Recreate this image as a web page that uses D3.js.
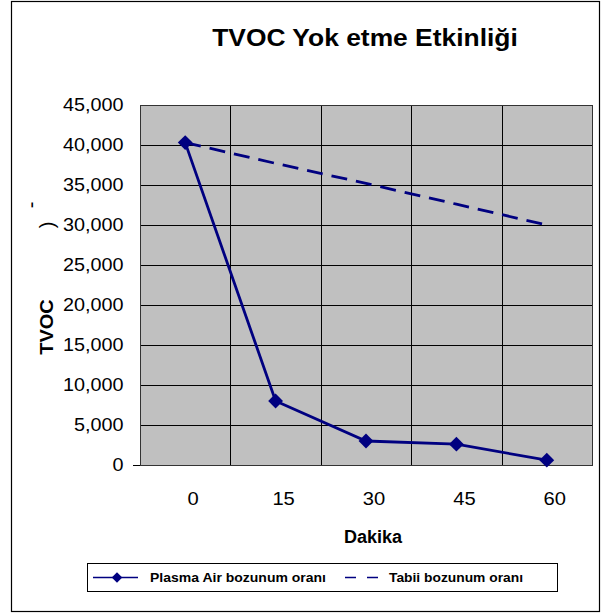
<!DOCTYPE html>
<html><head><meta charset="utf-8">
<script src="https://cdn.jsdelivr.net/npm/d3@7"></script>
<style>body{margin:0;background:#fff}svg{display:block;font-family:Arial,"Liberation Sans",sans-serif}</style>
</head><body><svg id="c" width="605" height="616"></svg>
<script>
const categories = ["0","15","30","45","60"];
const plasmaAir = [40300, 8000, 3000, 2600, 600];
const tabii = [40300, 37700, 35200, 32600, 30000];
const yTicks = [0,5000,10000,15000,20000,25000,30000,35000,40000,45000];

const svg = d3.select("#c");
const L = 140, R = 592, T = 105, B = 465;
const x = d3.scaleBand().domain(categories).range([L, R]);
const y = d3.scaleLinear().domain([0, 45000]).range([B, T]);
const navy = "#000080";

function stretch(sel, k) {
  sel.each(function(){ const w = this.getComputedTextLength(); d3.select(this).attr("textLength", w*k).attr("lengthAdjust","spacingAndGlyphs"); });
}

svg.append("rect").attr("x",11.5).attr("y",1.5).attr("width",588).attr("height",610).attr("fill","none").attr("stroke","#000").attr("stroke-width",1.2);

svg.append("text").attr("x",365).attr("y",46).attr("text-anchor","middle").attr("font-size",24).attr("font-weight","bold").text("TVOC Yok etme Etkinliği").call(stretch,1.1);

svg.append("rect").attr("x",L).attr("y",T).attr("width",R-L).attr("height",B-T).attr("fill","#c0c0c0");

svg.append("g").selectAll("line").data(yTicks).join("line")
  .attr("x1",L).attr("x2",R).attr("y1",d=>Math.round(y(d))+0.5).attr("y2",d=>Math.round(y(d))+0.5)
  .attr("stroke","#000").attr("stroke-width",1);
const bounds = categories.map(c=>x(c)).concat([R]);
svg.append("g").selectAll("line").data(bounds).join("line")
  .attr("x1",d=>Math.round(d)+0.5).attr("x2",d=>Math.round(d)+0.5).attr("y1",T).attr("y2",B)
  .attr("stroke","#000").attr("stroke-width",1);
svg.append("rect").attr("x",L+0.5).attr("y",T+0.5).attr("width",R-L).attr("height",B-T).attr("fill","none").attr("stroke","#333").attr("stroke-width",1);

const yAxis = svg.append("g").attr("transform",`translate(${L+0.5},0)`)
  .call(d3.axisLeft(y).tickValues(yTicks).tickSize(0).tickFormat(d3.format(",")));
yAxis.select(".domain").remove();
yAxis.selectAll("text").attr("font-size",18).attr("font-family","Arial, 'Liberation Sans', sans-serif").attr("x",-17).attr("fill","#000").call(stretch,1.1);
svg.append("line").attr("x1",133).attr("x2",L).attr("y1",B+0.5).attr("y2",B+0.5).attr("stroke","#000");

const xAxis = svg.append("g").attr("transform",`translate(0,${B})`)
  .call(d3.axisBottom(x).tickSize(0).tickPadding(27));
xAxis.select(".domain").remove();
xAxis.selectAll("text").attr("font-size",18).attr("font-family","Arial, 'Liberation Sans', sans-serif").attr("fill","#000").attr("dx",8).call(stretch,1.12);

svg.append("text").attr("x",373).attr("y",543).attr("text-anchor","middle").attr("font-size",18).attr("font-weight","bold").text("Dakika");
svg.append("text").attr("transform","translate(53,327) rotate(-90)").attr("text-anchor","middle").attr("font-size",19).attr("font-weight","bold").text("TVOC").call(stretch,1.05);
svg.append("text").attr("transform","translate(54,225) rotate(-90)").attr("text-anchor","middle").attr("font-size",20).text(")");
svg.append("text").attr("transform","translate(38,205) rotate(-90)").attr("text-anchor","middle").attr("font-size",20).text("-");

const cx = c => x(c) + x.bandwidth()/2;
svg.append("path").datum(tabii).attr("fill","none").attr("stroke",navy).attr("stroke-width",2.8)
  .attr("stroke-dasharray","16,9")
  .attr("d",d3.line().x((d,i)=>cx(categories[i])).y(d=>y(d)));
svg.append("path").datum(plasmaAir).attr("fill","none").attr("stroke",navy).attr("stroke-width",2.8)
  .attr("d",d3.line().x((d,i)=>cx(categories[i])).y(d=>y(d)));
const diamond = d3.symbol().type(d3.symbolDiamond2).size(140);
svg.append("g").selectAll("path").data(plasmaAir).join("path")
  .attr("transform",(d,i)=>`translate(${cx(categories[i])},${y(d)})`)
  .attr("d",diamond).attr("fill",navy);

const lg = svg.append("g");
lg.append("rect").attr("x",87.5).attr("y",563.5).attr("width",470).attr("height",28).attr("fill","#fff").attr("stroke","#000").attr("stroke-width",1);
lg.append("line").attr("x1",93).attr("x2",138).attr("y1",577.5).attr("y2",577.5).attr("stroke",navy).attr("stroke-width",1.5);
lg.append("path").attr("transform","translate(117,577.5)").attr("d",d3.symbol().type(d3.symbolDiamond2).size(70)).attr("fill",navy);
lg.append("text").attr("x",150).attr("y",581.5).attr("font-size",12.5).attr("font-weight","bold").text("Plasma Air bozunum oranı").attr("textLength",176).attr("lengthAdjust","spacingAndGlyphs");
lg.append("line").attr("x1",345).attr("x2",379).attr("y1",577.5).attr("y2",577.5).attr("stroke",navy).attr("stroke-width",1.5).attr("stroke-dasharray","11,11");
lg.append("text").attr("x",389).attr("y",581.5).attr("font-size",12.5).attr("font-weight","bold").text("Tabii bozunum oranı").attr("textLength",134).attr("lengthAdjust","spacingAndGlyphs");
</script></body></html>
